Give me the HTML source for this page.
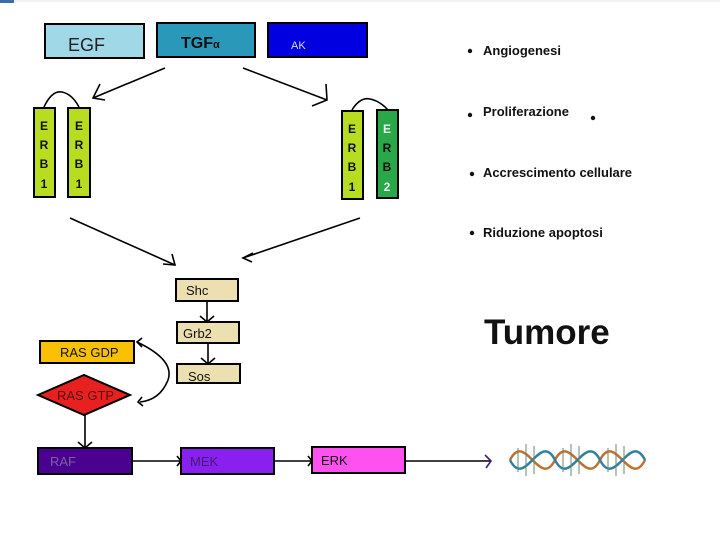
<!DOCTYPE html>
<html><head><style>
body{margin:0;width:720px;height:540px;background:#fff;overflow:hidden;font-family:"Liberation Sans",sans-serif}
</style></head><body>
<svg width="720" height="540" xmlns="http://www.w3.org/2000/svg" font-family="Liberation Sans, sans-serif">
<rect x="0" y="0" width="14" height="3" fill="#3a6ea8"/>
<line x1="14" y1="1" x2="720" y2="1" stroke="#e0e6ee" stroke-width="1"/>
<g stroke="#000" stroke-width="2">
<rect x="45" y="24" width="99" height="34" fill="#a0d8e8"/>
<rect x="157" y="23" width="98" height="34" fill="#2a98b8"/>
<rect x="268" y="23" width="99" height="34" fill="#0000e0"/>
</g>
<text x="68" y="51" font-size="18" fill="#222">EGF</text>
<text x="181" y="48" font-size="16" font-weight="bold" fill="#111">TGF<tspan font-size="11">α</tspan></text>
<text x="291" y="49" font-size="11" fill="#ddd">AK</text>
<g stroke="#000" stroke-width="1.6" fill="none">
<line x1="165" y1="68" x2="93" y2="98"/><polyline points="100,84 93,98 105,100"/>
<line x1="243" y1="68" x2="327" y2="100"/><polyline points="326,84 327,100 312,106"/>
<path d="M44,107 Q52,90 62,92 Q72,94 79,107"/>
<path d="M352,110 Q360,97 370,99 Q380,101 388,110"/>
<line x1="70" y1="218" x2="175" y2="265"/><polyline points="163,264 175,265 172,254"/>
<line x1="360" y1="218" x2="243" y2="258"/><polyline points="253,253 243,258 252,262"/>
<line x1="207" y1="301" x2="207" y2="322"/><polyline points="200,316 207,322 214,316"/>
<line x1="208" y1="343" x2="208" y2="364"/><polyline points="201,358 208,364 215,358"/>
<path d="M137,342 Q175,360 168,380 Q160,400 140,402"/><polyline points="142,338 137,342 142,347"/><polyline points="142,397 138,402 143,406"/>
<line x1="85" y1="415" x2="85" y2="448"/><polyline points="78,442 85,448 92,442"/>
<line x1="132" y1="461" x2="181" y2="461"/><polyline points="177,456 181,461 177,466"/>
<line x1="274" y1="461" x2="312" y2="461"/><polyline points="308,456 312,461 308,466"/>
<line x1="405" y1="461" x2="490" y2="461"/><polyline points="485,455 491,461 486,468" stroke="#402070"/>
</g>
<g stroke="#000" stroke-width="2">
<rect x="34" y="108" width="21" height="89" fill="#b8dc20"/>
<rect x="68" y="108" width="22" height="89" fill="#b8dc20"/>
<rect x="342" y="111" width="21" height="88" fill="#b8dc20"/>
<rect x="377" y="110" width="21" height="88" fill="#28a848"/>
<rect x="176" y="279" width="62" height="22" fill="#ede0b0"/>
<rect x="177" y="322" width="62" height="21" fill="#ede0b0"/>
<rect x="177" y="364" width="63" height="19" fill="#ede0b0"/>
<rect x="40" y="341" width="94" height="22" fill="#f8c000"/>
<polygon points="38,395 84,375 130,395 84,415" fill="#e82020"/>
<rect x="38" y="448" width="94" height="26" fill="#4a0090"/>
<rect x="181" y="448" width="93" height="26" fill="#8a20f0"/>
<rect x="312" y="447" width="93" height="26" fill="#ff50f0"/>
</g>
<g font-size="12" font-weight="bold" text-anchor="middle" fill="#111">
<text x="44" y="130">E</text><text x="44" y="149">R</text><text x="44" y="168">B</text><text x="44" y="188">1</text>
<text x="79" y="130">E</text><text x="79" y="149">R</text><text x="79" y="168">B</text><text x="79" y="188">1</text>
<text x="352" y="133">E</text><text x="352" y="152">R</text><text x="352" y="171">B</text><text x="352" y="191">1</text>
<text x="387" y="133" fill="#f0f0f0">E</text><text x="387" y="152" fill="#111">R</text><text x="387" y="171">B</text><text x="387" y="191" fill="#f0f0f0">2</text>
</g>
<g font-size="13" fill="#111">
<text x="186" y="295">Shc</text>
<text x="183" y="338">Grb2</text>
<text x="188" y="381">Sos</text>
<text x="60" y="357">RAS GDP</text>
<text x="57" y="400" fill="#551010">RAS GTP</text>
<text x="50" y="466" fill="#7a60a0">RAF</text>
<text x="190" y="466" fill="#402070">MEK</text>
<text x="321" y="465">ERK</text>
</g>
<g font-size="13" font-weight="bold" fill="#111">
<circle cx="470" cy="51" r="2.2" fill="#111"/><text x="483" y="55">Angiogenesi</text>
<circle cx="470" cy="115" r="2.2" fill="#111"/><text x="483" y="116">Proliferazione</text>
<circle cx="593" cy="118" r="2.2" fill="#111"/>
<circle cx="472" cy="174" r="2.2" fill="#111"/><text x="483" y="177" textLength="149">Accrescimento cellulare</text>
<circle cx="472" cy="233" r="2.2" fill="#111"/><text x="483" y="237">Riduzione apoptosi</text>
</g>
<text x="484" y="344" font-size="35" font-weight="bold" fill="#111">Tumore</text>
<g fill="none" stroke-width="2.5">
<path d="M510,460 C525,430 540,490 555,460 C570,430 585,490 600,460 C615,430 630,490 645,460" stroke="#c07030"/>
<path d="M510,460 C525,490 540,430 555,460 C570,490 585,430 600,460 C615,490 630,430 645,460" stroke="#3080a0"/>
</g>
<g stroke="#6a8a70" stroke-width="1">
<line x1="518" y1="448" x2="518" y2="472"/><line x1="526" y1="444" x2="526" y2="476"/><line x1="534" y1="446" x2="534" y2="474"/>
<line x1="563" y1="448" x2="563" y2="472"/><line x1="571" y1="444" x2="571" y2="476"/><line x1="579" y1="446" x2="579" y2="474"/>
<line x1="608" y1="448" x2="608" y2="472"/><line x1="616" y1="444" x2="616" y2="476"/><line x1="624" y1="446" x2="624" y2="474"/>
</g>
</svg>
</body></html>
